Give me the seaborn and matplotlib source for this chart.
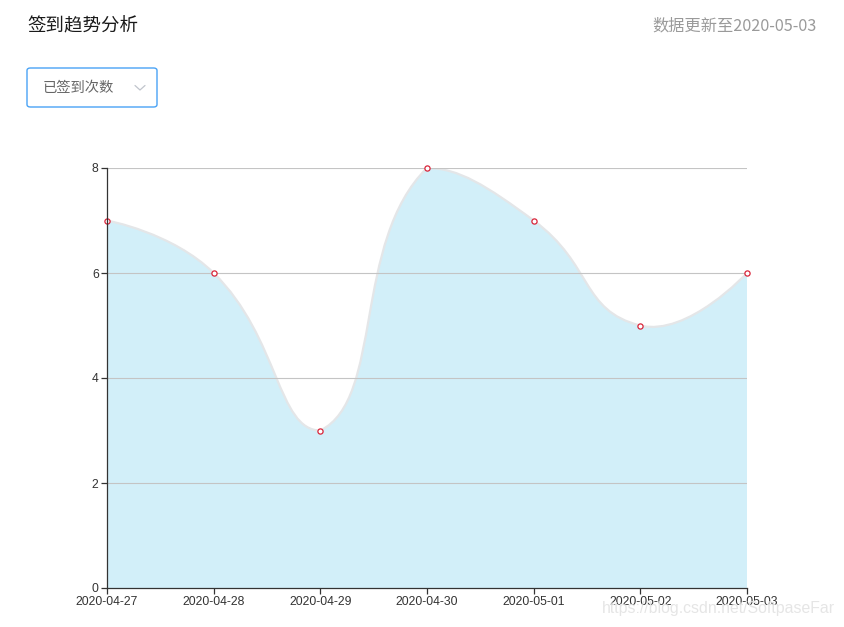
import numpy as np
import pandas as pd
import matplotlib
matplotlib.use("Agg")
import matplotlib.pyplot as plt
from matplotlib.path import Path
from matplotlib.patches import PathPatch, FancyBboxPatch
from matplotlib.lines import Line2D
import seaborn as sns

# ---- data ----
dates = ["2020-04-27", "2020-04-28", "2020-04-29", "2020-04-30",
         "2020-05-01", "2020-05-02", "2020-05-03"]
counts = [7, 6, 3, 8, 7, 5, 6]
y_ticks = [0, 2, 4, 6, 8]
title_text = "签到趋势分析"
update_text = "数据更新至2020-05-03"
select_text = "已签到次数"
watermark = "https://blog.csdn.net/SoftpaseFar"

sns.set_theme(style="white")
plt.rcParams["font.family"] = ["Noto Sans CJK SC", "DejaVu Sans"]

W, H = 845, 627
fig = plt.figure(figsize=(W / 100, H / 100), dpi=100)
L, R, T, B = 107, 747, 168, 588
ax = fig.add_axes([L / W, (H - B) / H, (R - L) / W, (B - T) / H])

df = pd.DataFrame({"pos": np.arange(len(dates)), "date": dates, "count": counts})

ax.set_xlim(0, len(dates) - 1)
ax.set_ylim(0, max(y_ticks))

# pixel scale for smoothing (ECharts-like bezier smoothing with bbox constraint)
sx = (R - L) / (len(dates) - 1)
sy = (B - T) / max(y_ticks)


def smooth_path(xs, ys, smooth=0.5):
    P = np.column_stack([np.asarray(xs, float) * sx, np.asarray(ys, float) * sy])
    lo = P.min(axis=0)
    hi = P.max(axis=0)
    n = len(P)
    verts = [P[0]]
    codes = [Path.MOVETO]
    cp0 = P[0].copy()
    for i in range(1, n):
        p = P[i]
        prev = P[i - 1]
        if i + 1 < n:
            nxt = P[i + 1]
            v = nxt - prev
            lp = np.hypot(*(p - prev))
            ln = np.hypot(*(p - nxt))
            r = ln / (ln + lp)
            cp1 = np.clip(p - v * smooth * (1 - r), lo, hi)
            new_cp0 = np.clip(p + v * smooth * r, lo, hi)
        else:
            cp1 = p.copy()
            new_cp0 = None
        verts += [cp0, cp1, p]
        codes += [Path.CURVE4] * 3
        cp0 = new_cp0
    V = np.array(verts)
    V[:, 0] /= sx
    V[:, 1] /= sy
    return V, codes


V, C = smooth_path(df["pos"], df["count"])
# area
av = np.vstack([V, [[df["pos"].iloc[-1], 0], [df["pos"].iloc[0], 0], V[0]]])
ac = C + [Path.LINETO, Path.LINETO, Path.CLOSEPOLY]
ax.add_patch(PathPatch(Path(av, ac), facecolor="#d2eff9", edgecolor="none", zorder=1))
ax.add_patch(PathPatch(Path(V, C), facecolor="none", edgecolor="#e4e6e8", lw=1.6, zorder=2))

sns.scatterplot(data=df, x="pos", y="count", ax=ax, s=14, marker="o",
                facecolor="white", edgecolor="#d9253a", linewidth=0.9,
                zorder=5, clip_on=False, legend=False)

# axes styling
ax.set_yticks(y_ticks)
ax.set_xticks(df["pos"])
ax.set_xticklabels(dates)
ax.set_xlabel("")
ax.set_ylabel("")
for t in y_ticks[1:]:
    ax.axhline(t, color="#c4c4c4", lw=0.8, zorder=3)
for s in ["top", "right"]:
    ax.spines[s].set_visible(False)
for s in ["left", "bottom"]:
    ax.spines[s].set_color("#333333")
    ax.spines[s].set_linewidth(0.9)
    ax.spines[s].set_zorder(6)
ax.tick_params(axis="both", which="both", direction="out", length=4, width=0.9,
               color="#333333", labelcolor="#333333", labelsize=8.7, pad=2,
               left=True, bottom=True)
for lab in ax.get_xticklabels() + ax.get_yticklabels():
    lab.set_fontfamily(["Liberation Sans", "DejaVu Sans"])
ax.set_facecolor("white")
ax.grid(False)

# header texts
fig.text(27 / W, 1 - 25 / H, title_text, fontsize=13.3, color="#1a1a1a",
         ha="left", va="center")
fig.text(817 / W, 1 - 26 / H, update_text, fontsize=11.7, color="#9a9a9a",
         ha="right", va="center")

# dropdown box
box = FancyBboxPatch((27 / W, 1 - 107 / H), 130 / W, 39 / H,
                     boxstyle="round,pad=0,rounding_size=0.004",
                     transform=fig.transFigure, facecolor="white",
                     edgecolor="#4aa3f5", lw=1.0)
fig.patches.append(box)
fig.text(43 / W, 1 - 88 / H, select_text, fontsize=10.3, color="#666666",
         ha="left", va="center")
fig.lines.append(Line2D([135 / W, 140 / W, 145 / W],
                        [1 - 85.5 / H, 1 - 90 / H, 1 - 85.5 / H],
                        transform=fig.transFigure, color="#c0c4cc", lw=0.9))

# watermark
fig.text(835 / W, 1 - 608 / H, watermark, fontsize=11.4, color="#e3e3e3",
         ha="right", va="center", family=["Liberation Sans", "DejaVu Sans"],
         alpha=0.9, zorder=10)

fig.savefig("out.png", dpi=100)
